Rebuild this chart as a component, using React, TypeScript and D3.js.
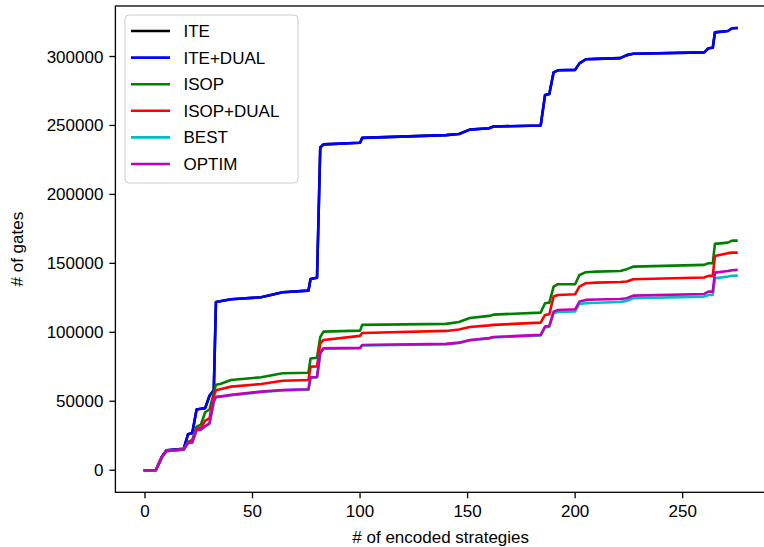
import React, { useRef, useEffect } from 'react';
import * as d3 from 'd3';

// x positions (# of encoded strategies) shared by all series
const strategies = [0, 5, 8, 10, 18, 20, 22, 24, 26, 28, 30, 32, 33, 35, 40, 54, 64, 76, 77, 80, 81.5, 83, 100, 101, 140, 146, 151, 160, 162, 184, 186, 188, 190, 192, 200, 202, 205, 210, 221, 224, 227, 260, 262, 264, 265, 271, 273, 275];

const iteGates = [0, 0, 10000, 14500, 15500, 26000, 27000, 44000, 44500, 45000, 54000, 58000, 122000, 122500, 124000, 125400, 129000, 130200, 138700, 139500, 234000, 236300, 237500, 241000, 243000, 243800, 247000, 248000, 249200, 250000, 272000, 272800, 288500, 290000, 290300, 295000, 298000, 298300, 298800, 301000, 302000, 303000, 306000, 306300, 317500, 318500, 320500, 320600];
const iteDualGates = [0, 0, 10000, 14500, 15500, 26000, 27000, 44000, 44500, 45000, 54000, 58000, 122000, 122500, 124000, 125400, 129000, 130200, 138700, 139500, 234000, 236300, 237500, 241000, 243000, 243800, 247000, 248000, 249200, 250000, 272000, 272800, 288500, 290000, 290300, 295000, 298000, 298300, 298800, 301000, 302000, 303000, 306000, 306300, 317500, 318500, 320500, 320600];
const isopGates = [0, 0, 10000, 14000, 15000, 20500, 22000, 31500, 33000, 42000, 44000, 56000, 62000, 62500, 65400, 67400, 70300, 70700, 81000, 81500, 96500, 100500, 101200, 105400, 106100, 107500, 110400, 111900, 112800, 114300, 121100, 121500, 133100, 134900, 134900, 141600, 143600, 144000, 144500, 145800, 147600, 148900, 150100, 150100, 164100, 165000, 166500, 166500];
const isopDualGates = [0, 0, 10000, 14000, 15000, 20000, 21500, 30000, 30500, 36000, 37600, 53800, 58000, 58700, 60600, 62500, 64900, 65400, 75100, 75300, 92000, 94400, 97400, 99500, 101000, 102000, 103900, 105000, 105400, 107000, 112600, 113100, 125900, 127100, 127600, 133100, 135600, 136000, 136500, 136800, 138500, 139700, 140900, 140900, 155400, 157400, 157800, 157800];
const bestGates = [0, 0, 9800, 13800, 14800, 19600, 19900, 28900, 29200, 31700, 33700, 49700, 53000, 53200, 54300, 56700, 57900, 58400, 67100, 67300, 84700, 88100, 88400, 90500, 91300, 92200, 94100, 95500, 96300, 97800, 103500, 104000, 113800, 114800, 115200, 120600, 121100, 121400, 122000, 122800, 124700, 125900, 127100, 127100, 139200, 140400, 141000, 141100];
const optimGates = [0, 0, 10000, 14000, 15000, 19900, 20200, 29200, 29500, 32000, 34000, 50000, 53300, 53500, 54600, 57000, 58200, 58700, 67400, 67600, 85000, 88400, 88700, 90800, 91600, 92500, 94400, 95800, 96600, 98100, 104100, 104600, 115000, 116200, 116700, 122300, 123500, 123800, 124200, 124700, 126600, 127800, 129500, 129500, 143300, 144500, 145000, 145200];

const seriesNames = ['ITE', 'ITE+DUAL', 'ISOP', 'ISOP+DUAL', 'BEST', 'OPTIM'];
const seriesColors = ['#000000', '#0000ff', '#008000', '#ff0000', '#00bfbf', '#bf00bf'];
const seriesValues = [iteGates, iteDualGates, isopGates, isopDualGates, bestGates, optimGates];

const xTicks = [0, 50, 100, 150, 200, 250];
const yTicks = [0, 50000, 100000, 150000, 200000, 250000, 300000];

function App() {
  const svgRef = useRef<SVGSVGElement>(null);

  useEffect(() => {
    const width = 764;
    const height = 547;
    const left = 115.4, right = 766, top = 6, bottom = 492.3;
    const font = "'Liberation Sans', Arial, Helvetica, sans-serif";

    const svg = d3.select(svgRef.current)
      .attr('width', width)
      .attr('height', height);
    svg.selectAll('*').remove();

    const xScale = d3.scaleLinear().domain([-13.75, 288.75]).range([left, right]);
    const maxY = 320600;
    const yScale = d3.scaleLinear().domain([-0.05 * maxY, 1.05 * maxY]).range([bottom, top]);

    svg.append('rect').attr('width', width).attr('height', height).attr('fill', 'white');

    svg.append('clipPath').attr('id', 'plotclip')
      .append('rect')
      .attr('x', left).attr('y', top)
      .attr('width', right - left).attr('height', bottom - top);

    // lines
    const line = d3.line<[number, number]>()
      .x(d => xScale(d[0]))
      .y(d => yScale(d[1]));

    const plot = svg.append('g').attr('clip-path', 'url(#plotclip)');
    seriesValues.forEach((vals, i) => {
      const pts: [number, number][] = strategies.map((s, j) => [s, vals[j]]);
      plot.append('path')
        .datum(pts)
        .attr('fill', 'none')
        .attr('stroke', seriesColors[i])
        .attr('stroke-width', 2.6)
        .attr('stroke-linejoin', 'round')
        .attr('stroke-linecap', 'square')
        .attr('d', line);
    });

    // spines
    svg.append('rect')
      .attr('x', left).attr('y', top)
      .attr('width', right - left).attr('height', bottom - top)
      .attr('fill', 'none')
      .attr('stroke', 'black')
      .attr('stroke-width', 1.3);

    // x axis ticks
    const xg = svg.append('g');
    xTicks.forEach(t => {
      xg.append('line')
        .attr('x1', xScale(t)).attr('x2', xScale(t))
        .attr('y1', bottom).attr('y2', bottom + 6)
        .attr('stroke', 'black').attr('stroke-width', 1.3);
      xg.append('text')
        .attr('x', xScale(t)).attr('y', bottom + 25)
        .attr('text-anchor', 'middle')
        .attr('font-family', font).attr('font-size', 17)
        .attr('fill', '#000')
        .text(String(t));
    });

    // y axis ticks
    const yg = svg.append('g');
    yTicks.forEach(t => {
      yg.append('line')
        .attr('x1', left - 6).attr('x2', left)
        .attr('y1', yScale(t)).attr('y2', yScale(t))
        .attr('stroke', 'black').attr('stroke-width', 1.3);
      yg.append('text')
        .attr('x', left - 12).attr('y', yScale(t) + 6)
        .attr('text-anchor', 'end')
        .attr('font-family', font).attr('font-size', 17)
        .attr('fill', '#000')
        .text(String(t));
    });

    // axis labels
    svg.append('text')
      .attr('x', (left + right) / 2).attr('y', 543)
      .attr('text-anchor', 'middle')
      .attr('font-family', font).attr('font-size', 17)
      .text('# of encoded strategies');
    svg.append('text')
      .attr('transform', `translate(23,${(top + bottom) / 2}) rotate(-90)`)
      .attr('text-anchor', 'middle')
      .attr('font-family', font).attr('font-size', 17)
      .text('# of gates');

    // legend
    const lg = svg.append('g');
    lg.append('rect')
      .attr('x', 125).attr('y', 15)
      .attr('width', 173).attr('height', 168)
      .attr('rx', 4)
      .attr('fill', 'white').attr('fill-opacity', 0.8)
      .attr('stroke', '#cccccc').attr('stroke-width', 1);
    seriesNames.forEach((name, i) => {
      const y = 31 + i * 26.6;
      lg.append('line')
        .attr('x1', 131).attr('x2', 170)
        .attr('y1', y).attr('y2', y)
        .attr('stroke', seriesColors[i]).attr('stroke-width', 2.6);
      lg.append('text')
        .attr('x', 183.5).attr('y', y + 6)
        .attr('font-family', font).attr('font-size', 17)
        .attr('fill', '#000')
        .text(name);
    });
  }, []);

  return (
    <svg ref={svgRef} style={{ position: 'absolute', left: 0, top: 0 }}></svg>
  );
}

export default App;
